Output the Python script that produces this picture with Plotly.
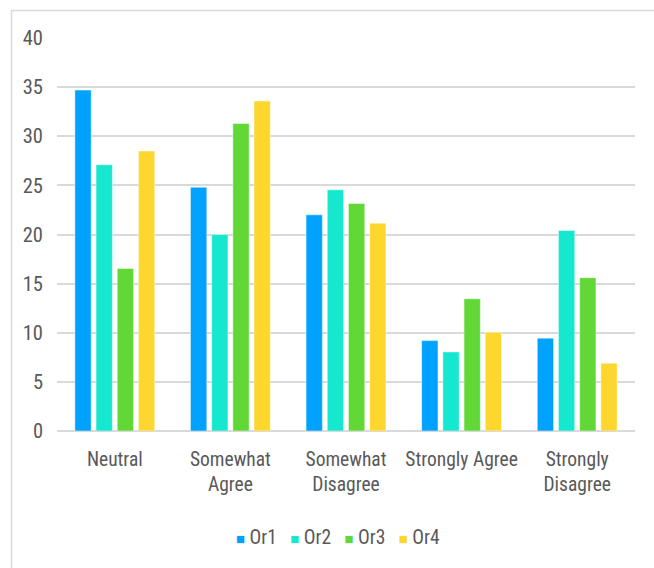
import plotly.graph_objects as go

# Survey responses by organisation (percent of respondents)
categories = ["Neutral", "Somewhat<br>Agree", "Somewhat<br>Disagree", "Strongly Agree", "Strongly<br>Disagree"]
series_names = ["Or1", "Or2", "Or3", "Or4"]
or1 = [34.7, 24.8, 22.0, 9.2, 9.45]
or2 = [27.1, 20.0, 24.55, 8.05, 20.4]
or3 = [16.55, 31.3, 23.15, 13.45, 15.6]
or4 = [28.5, 33.6, 21.15, 10.05, 6.9]
y_ticks = [0, 5, 10, 15, 20, 25, 30, 35, 40]

colors = ["#00A2FF", "#16E7CF", "#61D836", "#FDD72E"]
FONT = "Roboto Condensed, Liberation Sans Narrow, Arial Narrow, Arial, sans-serif"
TEXT_COLOR = "#595959"
GRID = "#D9D9D9"
FS = 19.5

fig = go.Figure()
for name, vals, col in zip(series_names, [or1, or2, or3, or4], colors):
    fig.add_trace(go.Bar(
        name=name, x=categories, y=vals,
        marker=dict(color=col, line=dict(color="rgba(255,255,255,0.45)", width=1)),
        showlegend=False,
    ))

W, H = 654, 568
ml, mr, mt, mb = 57, 19, 38, 136.5
pw = W - ml - mr
ph = H - mt - mb

# light frame around the chart area (top and left edges visible)
fig.add_shape(
    type="rect", xref="paper", yref="paper",
    x0=(11.5 - ml) / pw, x1=(W + 20 - ml) / pw,
    y0=-(H + 20 - mt - ph) / ph, y1=(H - mb - 10.5) / ph,
    line=dict(color=GRID, width=1.5), fillcolor="rgba(0,0,0,0)", layer="below",
)

# compact legend row: coloured square + series name
legend_text = "&nbsp;&nbsp;&nbsp;".join(
    f"<span style='color:{c};font-size:15px'>■</span>&nbsp;{n}" for n, c in zip(series_names, colors)
)
fig.add_annotation(
    xref="paper", yref="paper", x=(337.5 - ml) / pw, y=-(538 - (H - mb)) / ph,
    xanchor="center", yanchor="middle", showarrow=False,
    text=legend_text, font=dict(family=FONT, size=FS, color=TEXT_COLOR),
)

fig.update_layout(
    width=W, height=H,
    margin=dict(l=ml, r=mr, t=mt, b=mb, pad=0),
    paper_bgcolor="white", plot_bgcolor="white",
    barmode="group", bargap=0.267, bargroupgap=0.23,
    font=dict(family=FONT, size=FS, color=TEXT_COLOR),
    showlegend=False,
    xaxis=dict(
        showgrid=False, showline=False, zeroline=False,
        tickfont=dict(family=FONT, size=FS, color=TEXT_COLOR),
        ticklabelstandoff=14,
    ),
    yaxis=dict(
        range=[0, 40], tickvals=y_ticks,
        showgrid=True, gridcolor=GRID, gridwidth=1.5,
        zeroline=True, zerolinecolor=GRID, zerolinewidth=1.5,
        showline=False,
        tickfont=dict(family=FONT, size=FS + 1, color=TEXT_COLOR),
        ticklabelstandoff=13,
    ),
)

fig.write_html("out.html")
